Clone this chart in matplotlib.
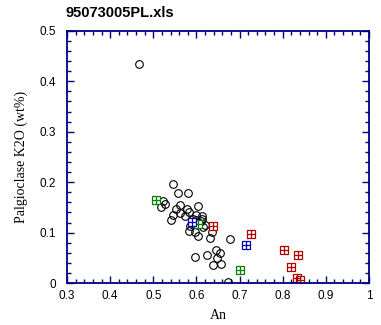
import matplotlib
matplotlib.use("Agg")
import matplotlib.pyplot as plt
from matplotlib.ticker import MultipleLocator, FormatStrFormatter

# plagioclase analyses, An fraction vs K2O wt%
an_all = [0.467, 0.546, 0.557, 0.581, 0.523, 0.517, 0.526, 0.562, 0.604, 0.553,
          0.577, 0.546, 0.540, 0.562, 0.573, 0.583, 0.600, 0.612, 0.589, 0.595,
          0.600, 0.606, 0.610, 0.583, 0.597, 0.604, 0.616, 0.620, 0.635, 0.632,
          0.678, 0.597, 0.624, 0.645, 0.655, 0.647, 0.639, 0.656, 0.672, 0.592,
          0.585, 0.614]
k2o_all = [0.435, 0.196, 0.178, 0.178, 0.163, 0.150, 0.157, 0.155, 0.153, 0.146,
           0.146, 0.135, 0.125, 0.138, 0.132, 0.141, 0.135, 0.132, 0.122, 0.118,
           0.126, 0.120, 0.124, 0.104, 0.102, 0.093, 0.112, 0.115, 0.102, 0.089,
           0.087, 0.051, 0.055, 0.065, 0.060, 0.049, 0.035, 0.038, 0.003, 0.128,
           0.113, 0.127]

an_red = [0.639, 0.727, 0.804, 0.835, 0.820, 0.833, 0.841]
k2o_red = [0.113, 0.097, 0.065, 0.055, 0.031, 0.010, 0.006]
an_green = [0.506, 0.604, 0.702]
k2o_green = [0.164, 0.118, 0.025]
an_blue = [0.589, 0.716]
k2o_blue = [0.122, 0.075]

navy = "#000080"

fig = plt.figure(figsize=(3.81, 3.25), dpi=100)
ax = fig.add_axes([0.176, 0.129, 0.7925, 0.776])

ax.plot(an_all, k2o_all, "o", ms=5.5, mfc="none", mec="black", mew=0.8)

for xs, ys, c in [(an_red, k2o_red, "#b00000"),
                  (an_green, k2o_green, "#008000"),
                  (an_blue, k2o_blue, "#0000b0")]:
    ax.plot(xs, ys, "s", ms=5.5, mfc="white", mec=c, mew=0.9)
    ax.plot(xs, ys, "+", ms=5.5, mec=c, mew=0.9)

ax.set_xlim(0.3, 1.0)
ax.set_ylim(0, 0.5)
ax.xaxis.set_major_locator(MultipleLocator(0.1))
ax.xaxis.set_minor_locator(MultipleLocator(0.02))
ax.yaxis.set_major_locator(MultipleLocator(0.1))
ax.yaxis.set_minor_locator(MultipleLocator(0.02))
ax.xaxis.set_major_formatter(FormatStrFormatter("%g"))
ax.yaxis.set_major_formatter(FormatStrFormatter("%g"))

for s in ax.spines.values():
    s.set_color(navy)
    s.set_linewidth(1.3)
ax.tick_params(which="both", direction="in", top=True, right=True, color=navy,
               width=1)
ax.tick_params(which="major", length=5)
ax.tick_params(which="minor", length=3)
ax.tick_params(axis="x", pad=5)
ax.tick_params(axis="y", pad=8)
for lab in ax.get_xticklabels() + ax.get_yticklabels():
    lab.set_fontfamily("Liberation Sans")
    lab.set_fontsize(8.5)

ax.set_xlabel("An", family="Liberation Serif", fontsize=10, labelpad=5)
ax.set_ylabel("Palgioclase K2O (wt%)", family="Liberation Serif", fontsize=10,
              labelpad=8)
fig.text(0.171, 0.96, "95073005PL.xls", family="Liberation Sans",
         fontweight="bold", fontsize=10.5, va="center", ha="left")

fig.savefig("out.png", dpi=100)
